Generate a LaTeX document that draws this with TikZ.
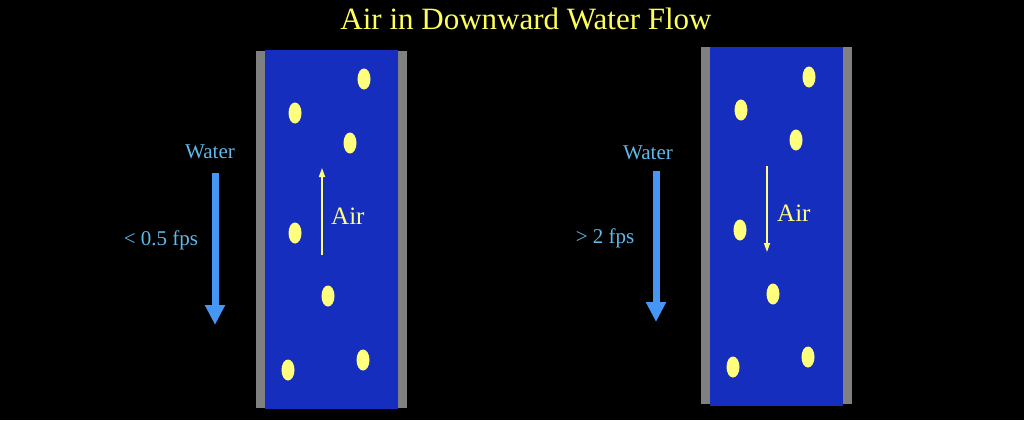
\documentclass[tikz,border=0pt]{standalone}
\usepackage{fontspec}
\setmainfont{Liberation Serif}
\usepackage{xcolor}
\usepackage{tikz}
\usetikzlibrary{shapes.geometric, arrows.meta, positioning}
\definecolor{pipeblue}{RGB}{22, 46, 190}
\definecolor{wallgray}{RGB}{128, 128, 128}
\definecolor{bubyellow}{RGB}{255, 255, 125}
\definecolor{titleyellow}{RGB}{255, 255, 90}
\definecolor{waterblue}{RGB}{70, 150, 245}
\definecolor{labelblue}{RGB}{95, 185, 235}

\begin{document}
\begin{tikzpicture}[
    x=1pt, y=-1pt,
    bubble/.style={ellipse, fill=bubyellow, minimum width=13pt, minimum height=21pt, inner sep=0pt},
    label/.style={text=labelblue, font=\fontsize{21}{25}\selectfont, inner sep=0pt},
    airlabel/.style={text=bubyellow, font=\fontsize{25}{30}\selectfont, inner sep=0pt, anchor=base west},
    flow/.style={draw=waterblue, line width=7pt, -{Triangle[width=19pt, length=20pt]}},
    airflow/.style={draw=bubyellow, line width=1.6pt, -{Triangle[width=6pt, length=9pt]}},
]
    \fill[black] (0,0) rectangle (1024,420);
    \useasboundingbox (0,0) rectangle (1024,420);

    \node[text=titleyellow, font=\fontsize{31}{37}\selectfont, inner sep=0pt, anchor=base] (title) at (526,30) {Air in Downward Water Flow};

    % Left pipe
    \fill[wallgray] (256,51) rectangle (407,408);
    \fill[pipeblue] (265,50) rectangle (398,409);
    \node[bubble] (l1) at (364,79) {};
    \node[bubble] (l2) at (295,113) {};
    \node[bubble] (l3) at (350,143) {};
    \node[bubble] (l4) at (295,233) {};
    \node[bubble] (l5) at (328,296) {};
    \node[bubble] (l6) at (288,370) {};
    \node[bubble] (l7) at (363,360) {};
    \coordinate (lairbot) at (322,255);
    \coordinate (lairtop) at (322,168);
    \draw[airflow] (lairbot) -- (lairtop);
    \node[airlabel] (lair) at (331,224) {Air};

    \node[label] (lwater) at (210,152) {Water};
    \coordinate (lflowtop) at (215,173);
    \coordinate (lflowbot) at (215,325);
    \draw[flow] (lflowtop) -- (lflowbot);
    \node[label] (lspeed) at (161,240) {< 0.5 fps};

    % Right pipe
    \fill[wallgray] (701,47) rectangle (852,404);
    \fill[pipeblue] (710,47) rectangle (843,406);
    \node[bubble] (r1) at (809,77) {};
    \node[bubble] (r2) at (741,110) {};
    \node[bubble] (r3) at (796,140) {};
    \node[bubble] (r4) at (740,230) {};
    \node[bubble] (r5) at (773,294) {};
    \node[bubble] (r6) at (733,367) {};
    \node[bubble] (r7) at (808,357) {};
    \coordinate (rairtop) at (767,166);
    \coordinate (rairbot) at (767,252);
    \draw[airflow] (rairtop) -- (rairbot);
    \node[airlabel] (rair) at (777,221) {Air};

    \node[label] (rwater) at (648,153) {Water};
    \coordinate (rflowtop) at (656,171);
    \coordinate (rflowbot) at (656,322);
    \draw[flow] (rflowtop) -- (rflowbot);
    \node[label] (rspeed) at (605,238) {> 2 fps};
\end{tikzpicture}
\end{document}
